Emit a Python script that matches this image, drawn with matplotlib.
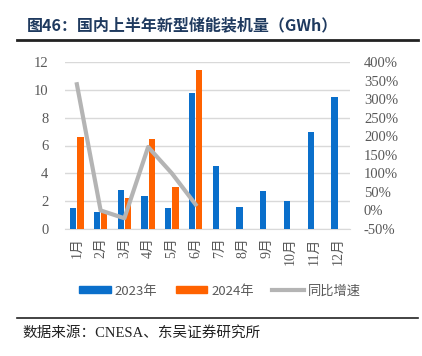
import matplotlib
matplotlib.use("Agg")
import matplotlib.pyplot as plt
import numpy as np
from matplotlib.lines import Line2D
from matplotlib.patches import Patch

months = ["1月", "2月", "3月", "4月", "5月", "6月", "7月", "8月", "9月", "10月", "11月", "12月"]
v2023 = [1.5, 1.2, 2.8, 2.4, 1.5, 9.8, 4.5, 1.6, 2.7, 2.0, 7.0, 9.5]
v2024 = [6.6, 1.2, 2.2, 6.5, 3.0, 11.4]
growth = [340, 0, -21, 171, 100, 16]

BLUE = "#0A6FCB"
ORANGE = "#FF6200"
GRAY = "#B4B4B4"
TXT = "#595959"
serif = ["Liberation Serif", "Noto Sans CJK SC"]
cjk = ["Noto Sans CJK SC", "DejaVu Sans"]

fig = plt.figure(figsize=(4.22, 3.56), dpi=100)
W, H = 422, 356
ax = fig.add_axes([65 / W, 1 - 229 / H, (350 - 65) / W, (229 - 62) / H])
ax2 = ax.twinx()

x = np.arange(len(months))
bw = 0.26
ax.bar(x - bw / 2 - 0.02, v2023, width=bw, color=BLUE, zorder=3)
ax.bar(x[:len(v2024)] + bw / 2 + 0.02, v2024, width=bw, color=ORANGE, zorder=3)
ax2.plot(x[:len(growth)], growth, color=GRAY, lw=3, zorder=4)

ax.set_xlim(-0.5, 11.5)
ax.set_ylim(0, 12)
ax.set_yticks(np.arange(0, 13, 2))
ax2.set_ylim(-50, 400)
ax2.set_yticks(np.arange(-50, 401, 50))
ax2.set_yticklabels([f"{v}%" for v in range(-50, 401, 50)])
ax.grid(axis="y", color="#D9D9D9", lw=1, zorder=0)
ax.set_axisbelow(True)

for a in (ax, ax2):
    for s in a.spines.values():
        s.set_visible(False)
    a.tick_params(length=0, labelsize=10.5, colors=TXT)
ax.spines["bottom"].set_visible(True)
ax.spines["bottom"].set_color("#D9D9D9")
ax.set_xticks(x)
ax.set_xticklabels(months, rotation=90, family=serif, fontsize=10, color=TXT)
for lab in ax.get_yticklabels() + ax2.get_yticklabels():
    lab.set_family(serif)
ax.tick_params(axis="y", pad=12)
ax.tick_params(axis="x", pad=6)
ax2.tick_params(axis="y", pad=10)

handles = [Patch(color=BLUE), Patch(color=ORANGE), Line2D([], [], color=GRAY, lw=3)]
leg = fig.legend(handles, ["2023年", "2024年", "同比增速"], loc="center",
                 bbox_to_anchor=(220 / W, 1 - 291 / H), ncol=3, frameon=False,
                 prop={"family": cjk, "size": 9.5}, handlelength=2.4, handleheight=0.45,
                 columnspacing=1.4, handletextpad=0.3)
for t in leg.get_texts():
    t.set_color(TXT)

fig.text(27 / W, 1 - 25 / H, "图46：国内上半年新型储能装机量（GWh）", family=cjk,
         fontsize=11.5, weight="bold", color="#1F3A5F", va="center", ha="left")
fig.add_artist(Line2D([17 / W, 418 / W], [1 - 40 / H, 1 - 40 / H], color="#222222", lw=2))
fig.add_artist(Line2D([17 / W, 418 / W], [1 - 318 / H, 1 - 318 / H], color="#222222", lw=1.2))
fig.text(22 / W, 1 - 333 / H, "数据来源：CNESA、东吴证券研究所", family=["Liberation Serif", "Noto Sans CJK SC"],
         fontsize=10.5, color="#222222", va="center", ha="left")

fig.savefig("out.png", dpi=100)
